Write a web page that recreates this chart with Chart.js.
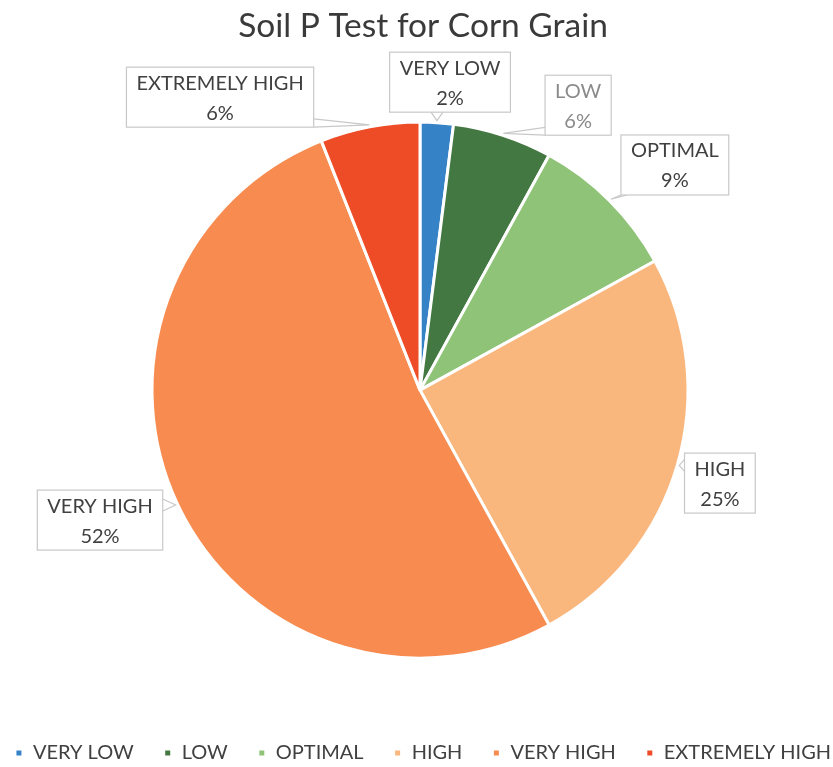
<!DOCTYPE html>
<html>
<head>
<meta charset="utf-8">
<script src="https://cdn.jsdelivr.net/npm/chart.js@4/dist/chart.umd.min.js"></script>
<style>
  html, body { margin: 0; padding: 0; background: #ffffff; }
  #wrap { width: 833px; height: 767px; position: relative; }
</style>
</head>
<body>
<div id="wrap"><canvas id="c" width="833" height="767"></canvas></div>
<script>
// ---- data ----
const categories = ["VERY LOW", "LOW", "OPTIMAL", "HIGH", "VERY HIGH", "EXTREMELY HIGH"];
const percentValues = [2, 6, 9, 25, 52, 6];
const chartTitle = "Soil P Test for Corn Grain";

// ---- styles / layout ----
const sliceColors = ["#3583c6", "#437843", "#8fc377", "#f9b77e", "#f88b4f", "#ee4b27"];
// label box centres, as fractions of the pie radius relative to the pie centre
const labelBoxOffsets = [
  [0.112, -1.149], [0.59, -1.063], [0.951, -0.84],
  [1.119, 0.347], [-1.194, 0.485], [-0.746, -1.093]
];
const labelTextColors = ["#404040", "#8a8a8a", "#404040", "#404040", "#404040", "#404040"];
const FONT = "Lato, 'Open Sans', sans-serif";
const PIE_SHIFT_X = 7;

const areaShiftPlugin = {
  id: 'areaShift',
  afterLayout(chart) {
    chart.chartArea.left += PIE_SHIFT_X;
    chart.chartArea.width -= PIE_SHIFT_X;
  }
};

const calloutPlugin = {
  id: 'callouts',
  afterDatasetsDraw(chart) {
    const ctx = chart.ctx;
    const meta = chart.getDatasetMeta(0);
    ctx.save();
    ctx.font = "20px " + FONT;
    meta.data.forEach((arc, i) => {
      const p = arc.getProps(['x', 'y', 'startAngle', 'endAngle', 'outerRadius'], true);
      const mid = (p.startAngle + p.endAngle) / 2;
      const R = p.outerRadius;
      const tipX = p.x + Math.cos(mid) * (R + 2);
      const tipY = p.y + Math.sin(mid) * (R + 2);
      const line1 = categories[i];
      const line2 = percentValues[i] + "%";
      const w = Math.max(ctx.measureText(line1).width, ctx.measureText(line2).width) + 20;
      const h = 60;
      const bx = p.x + labelBoxOffsets[i][0] * R;
      const by = p.y + labelBoxOffsets[i][1] * R;
      const x0 = bx - w / 2, y0 = by - h / 2, x1 = bx + w / 2, y1 = by + h / 2;
      const nx = Math.min(Math.max(tipX, x0), x1);
      const ny = Math.min(Math.max(tipY, y0), y1);
      ctx.strokeStyle = "#c8c8c8";
      ctx.lineWidth = 1.2;
      ctx.beginPath();
      const onVert = (nx === x0 || nx === x1) && ny > y0 && ny < y1;
      if (onVert) {
        const a = Math.max(y0, ny - 6), b = Math.min(y1, ny + 6);
        ctx.moveTo(nx, a); ctx.lineTo(tipX, tipY); ctx.lineTo(nx, b);
      } else {
        const a = Math.max(x0, nx - 6), b = Math.min(x1, nx + 6);
        ctx.moveTo(a, ny); ctx.lineTo(tipX, tipY); ctx.lineTo(b, ny);
      }
      ctx.stroke();
      ctx.fillStyle = "#ffffff";
      ctx.fillRect(x0, y0, w, h);
      ctx.strokeRect(x0, y0, w, h);
      ctx.fillStyle = labelTextColors[i];
      ctx.textAlign = "center";
      ctx.textBaseline = "middle";
      ctx.fillText(line1, bx, by - 14);
      ctx.fillText(line2, bx, by + 16);
    });
    ctx.restore();
  }
};

new Chart(document.getElementById('c'), {
  type: 'pie',
  data: {
    labels: categories,
    datasets: [{
      data: percentValues,
      backgroundColor: sliceColors,
      borderColor: "#ffffff",
      borderWidth: 3,
      radius: 268
    }]
  },
  options: {
    responsive: false,
    animation: false,
    layout: { padding: { left: -27, right: -40, top: 0, bottom: -6 } },
    plugins: {
      title: {
        display: true,
        text: chartTitle,
        color: "#3a3a3a",
        font: { family: FONT, size: 33.5, weight: 'normal' },
        padding: { top: 6, bottom: 21 }
      },
      legend: {
        position: 'bottom',
        labels: {
          color: "#404040",
          font: { family: FONT, size: 20 },
          boxWidth: 8,
          boxHeight: 8,
          padding: 30
        }
      },
      tooltip: { enabled: false }
    }
  },
  plugins: [areaShiftPlugin, calloutPlugin]
});
</script>
</body>
</html>
